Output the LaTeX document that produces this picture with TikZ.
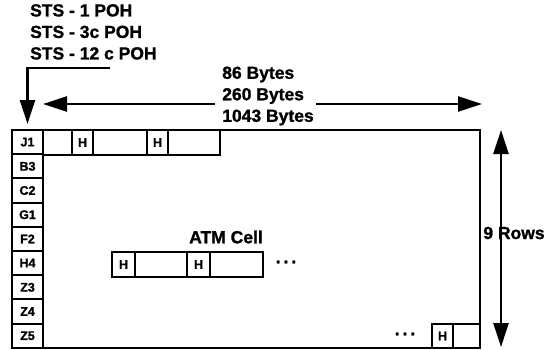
\documentclass[tikz,border=0pt]{standalone}
\usepackage{fontspec}
\setmainfont{Liberation Sans}[BoldFeatures={FakeBold=1.2}]
\usepackage{tikz}
\usetikzlibrary{arrows.meta,calc,positioning}

\begin{document}
\begin{tikzpicture}[x=1pt, y=-1pt,
      poh/.style={rectangle, draw, line width=2pt, minimum width=31pt, minimum height=24.2pt, inner sep=0pt, font=\fontsize{12.5}{13}\selectfont\bfseries},
      hcell/.style={rectangle, draw, line width=2pt, minimum width=21pt, minimum height=25pt, inner sep=0pt, font=\fontsize{12.5}{13}\selectfont\bfseries},
      slot/.style={rectangle, draw, line width=2pt, minimum height=25pt, inner sep=0pt},
      lbl/.style={font=\fontsize{17.5}{21.5}\selectfont\bfseries, inner sep=0pt},
      arr/.style={-{Triangle[length=24pt, width=15pt]}, line width=2.5pt}
    ]
      \useasboundingbox (0,0) rectangle (559,349);

      % SPE frame
      \draw[line width=2.2pt] (12,130) rectangle (480,348);

      % path overhead column
      \node[poh] (j1) at (27.5,142.1) {J1};
      \node[poh] (b3) at (27.5,166.3) {B3};
      \node[poh] (c2) at (27.5,190.5) {C2};
      \node[poh] (g1) at (27.5,214.7) {G1};
      \node[poh] (f2) at (27.5,238.9) {F2};
      \node[poh] (h4) at (27.5,263.1) {H4};
      \node[poh] (z3) at (27.5,287.3) {Z3};
      \node[poh] (z4) at (27.5,311.5) {Z4};
      \node[poh] (z5) at (27.5,335.7) {Z5};

      % cells in the first row
      \node[slot, minimum width=29pt] (s1) at (57.5,142.5) {};
      \node[hcell] (h1) at (82.5,142.5) {H};
      \node[slot, minimum width=54pt] (s2) at (120,142.5) {};
      \node[hcell] (h2) at (157.5,142.5) {H};
      \node[slot, minimum width=52pt] (s3) at (194,142.5) {};

      % ATM cells in the middle
      \node[lbl] (atm) at (226,237) {ATM Cell};
      \node[hcell, minimum width=23pt] (h3) at (123.5,264.5) {H};
      \node[slot, minimum width=52pt] (s4) at (161,264.5) {};
      \node[hcell, minimum width=23pt] (h5) at (198.5,264.5) {H};
      \node[slot, minimum width=53pt] (s5) at (236.5,264.5) {};
      \node[lbl] (dots1) at (286,262) {.\,.\,.};

      % last cell at the bottom
      \node[lbl] (dots2) at (405,334) {.\,.\,.};
      \node[hcell, minimum height=24pt] (h6) at (442.5,336) {H};
      \node[slot, minimum width=27pt, minimum height=24pt] (s6) at (466.5,336) {};

      % labels and arrows
      \node[lbl, align=left, anchor=north west] (sts) at (30,4) {STS - 1 POH\\STS - 3c POH\\STS - 12 c POH};
      \coordinate (stsend) at (110,68);
      \draw[arr] (stsend) -| ([yshift=5pt]j1.north);

      \node[lbl, align=left] (bytes) at (268,96) {86 Bytes\\260 Bytes\\1043 Bytes};
      \coordinate (byteL) at (43,104);
      \coordinate (byteR) at (482,104);
      \draw[arr] ([xshift=-7pt]bytes.west |- byteL) -- (byteL);
      \draw[arr] ([xshift=2pt]bytes.east |- byteR) -- (byteR);

      \node[lbl, fill=white] (rows) at (514,233) {9 Rows};
      \coordinate (rowT) at (501,130);
      \coordinate (rowB) at (501,347);
      \draw[arr] ([yshift=-6pt]rowT |- rows.north) -- (rowT);
      \draw[arr] ([yshift=6pt]rowB |- rows.south) -- (rowB);
    \end{tikzpicture}
\end{document}
